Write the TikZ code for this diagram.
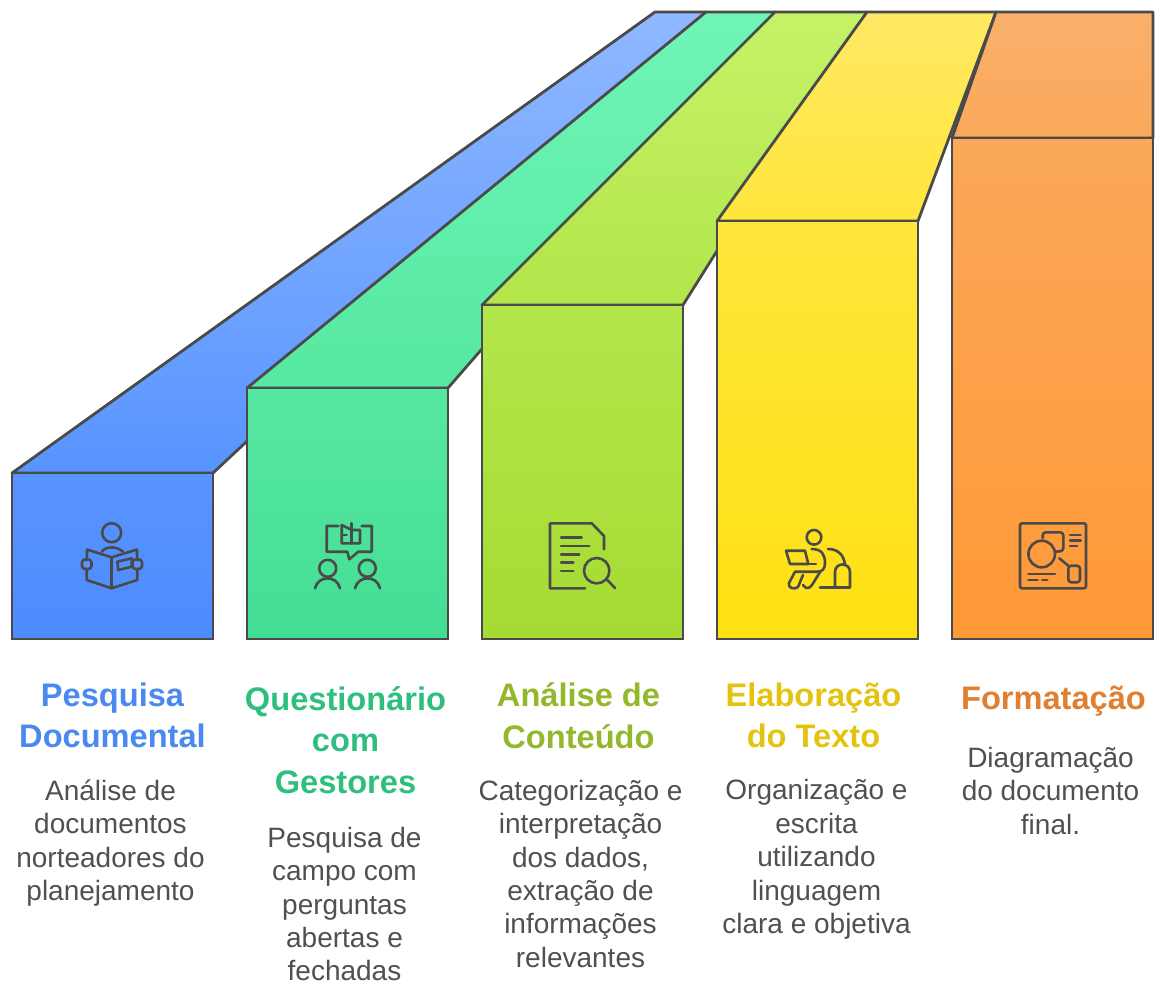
\documentclass[tikz,border=0pt]{standalone}
\usepackage{fontspec}
\setmainfont{Liberation Sans}
\usepackage{xcolor}
\usetikzlibrary{positioning}
\definecolor{linegray}{RGB}{74, 74, 74}
\definecolor{bodygray}{RGB}{80, 80, 80}
\definecolor{bluetop}{RGB}{143, 184, 255}
\definecolor{bluemid}{RGB}{88, 148, 255}
\definecolor{bluelow}{RGB}{77, 140, 255}
\definecolor{bluetext}{RGB}{74, 138, 240}
\definecolor{greentop}{RGB}{112, 245, 184}
\definecolor{greenmid}{RGB}{86, 232, 160}
\definecolor{greenlow}{RGB}{68, 221, 148}
\definecolor{greentext}{RGB}{46, 190, 125}
\definecolor{limetop}{RGB}{197, 242, 104}
\definecolor{limemid}{RGB}{178, 230, 74}
\definecolor{limelow}{RGB}{166, 219, 52}
\definecolor{limetext}{RGB}{148, 184, 44}
\definecolor{yellowtop}{RGB}{255, 232, 99}
\definecolor{yellowmid}{RGB}{255, 230, 60}
\definecolor{yellowlow}{RGB}{255, 224, 18}
\definecolor{yellowtext}{RGB}{227, 195, 16}
\definecolor{orangetop}{RGB}{250, 176, 107}
\definecolor{orangemid}{RGB}{251, 168, 90}
\definecolor{orangelow}{RGB}{255, 152, 54}
\definecolor{orangetext}{RGB}{224, 127, 47}

\begin{document}
\begin{tikzpicture}[
    x=1pt, y=-1pt,
    front/.style={draw=linegray, line width=2.8pt, minimum width=201pt, anchor=south west, inner sep=0pt, outer sep=0pt},
    face/.style={draw=linegray, line width=2.8pt, line join=round},
    heading/.style={font=\fontsize{32.6}{41.5}\selectfont\bfseries, align=center, inner sep=0pt, execute at begin node=\strut, execute at end node=\strut},
    detail/.style={font=\fontsize{28}{33.4}\selectfont, text=bodygray, align=center, inner sep=0pt, execute at begin node=\strut},
    icon/.style={draw=linegray, line width=2.6pt, line cap=round, line join=round}
]
    \useasboundingbox (0,0) rectangle (1155,984);

    % Blue column
    \draw[face, top color=bluetop, bottom color=bluemid] (12,473) -- (655,12) -- (706,12) -- (213,473) -- cycle;
    \node[front, top color=bluemid, bottom color=bluelow, minimum height=166pt] (pesquisa) at (12,639) {};
    % Green column
    \draw[face, top color=greentop, bottom color=greenmid] (247,388) -- (706,12) -- (775,12) -- (448,388) -- cycle;
    \node[front, top color=greenmid, bottom color=greenlow, minimum height=251pt] (questionario) at (247,639) {};
    % Lime column
    \draw[face, top color=limetop, bottom color=limemid] (482,305) -- (775,12) -- (867,12) -- (683,305) -- cycle;
    \node[front, top color=limemid, bottom color=limelow, minimum height=334pt] (analise) at (482,639) {};
    % Yellow column
    \draw[face, top color=yellowtop, bottom color=yellowmid] (717,221) -- (867,12) -- (996,12) -- (918,221) -- cycle;
    \node[front, top color=yellowmid, bottom color=yellowlow, minimum height=418pt] (elaboracao) at (717,639) {};
    % Orange column
    \draw[face, top color=orangetop, bottom color=orangemid] (952,138) -- (996,12) -- (1153,12) -- (1153,138) -- cycle;
    \node[front, top color=orangemid, bottom color=orangelow, minimum height=501pt] (formatacao) at (952,639) {};

    % Headings
    \node[heading, text=bluetext, below=43.5pt of pesquisa] (pesquisatitle) {Pesquisa\\Documental};
    \node[heading, text=greentext, below=47pt of questionario, xshift=-2pt] (questionariotitle) {Questionário\\com\\Gestores};
    \node[heading, text=limetext, below=43.5pt of analise, xshift=-4pt] (analisetitle) {Análise de\\Conteúdo};
    \node[heading, text=yellowtext, below=43.5pt of elaboracao, xshift=-4pt] (elaboracaotitle) {Elaboração\\do Texto};
    \node[heading, text=orangetext, below=41pt of formatacao, xshift=1pt] (formatacaotitle) {Formatação};

    % Details
    \node[detail, below=19pt of pesquisatitle, xshift=-2pt] (pesquisatext) {Análise de\\documentos\\norteadores do\\planejamento};
    \node[detail, below=21pt of questionariotitle, xshift=-1pt] (questionariotext) {Pesquisa de\\campo com\\perguntas\\abertas e\\fechadas};
    \node[detail, below=19pt of analisetitle, xshift=2pt] (analisetext) {Categorização e\\interpretação\\dos dados,\\extração de\\informações\\relevantes};
    \node[detail, below=19pt of elaboracaotitle, xshift=3pt] (elaboracaotext) {Organização e\\escrita\\utilizando\\linguagem\\clara e objetiva};
    \node[detail, below=25pt of formatacaotitle, xshift=-3pt] (formatacaotext) {Diagramação\\do documento\\final.};

    % Reader icon
    \draw[icon] (111.7,532.7) circle (9.5);
    \draw[icon] (87,549.5) -- (111.7,557.3) -- (137,549.5) -- (137.3,580) -- (111.7,588.3) -- (86.7,580) -- cycle;
    \draw[icon] (111.7,557.3) -- (111.7,588.3);
    \draw[icon, rounded corners=3pt, fill=bluemid] (82,559.5) rectangle (91.5,569);
    \draw[icon, rounded corners=3pt, fill=bluemid] (132.5,559.5) rectangle (142,569);
    \draw[icon] (101.7,551.7) .. controls (106,546) and (117,546) .. (123,551.7);
    \draw[icon] (117.3,561.7) -- (131.7,558.3) -- (131.7,566.7) -- (118.3,570) -- cycle;

    % Survey icon
    \draw[icon] (338.3,526) -- (326.7,526) -- (326.7,551.7) -- (347.3,551.7) -- (349.3,559.3) -- (358.3,551.7) -- (371.7,551.7) -- (371.7,526) -- (361.7,526);
    \draw[icon] (351.7,530) -- (341.7,525) -- (341.7,543.3) -- (360,543.3) -- (360,530) -- (351.7,530);
    \draw[icon] (351.7,523.3) -- (351.7,543.3);
    \draw[icon] (341.7,535) -- (346.7,535);
    \draw[icon] (327.7,568.3) circle (8.5);
    \draw[icon] (367.3,568.3) circle (8.5);
    \draw[icon] (315,588.3) .. controls (318,575) and (337,575) .. (340,588.3);
    \draw[icon] (355,588.3) .. controls (358,575) and (377,575) .. (380,588.3);

    % Document icon
    \draw[icon] (585,588.3) -- (550,588.3) -- (550,523.3) -- (591.7,523.3) -- (604,536) -- (604,549.3);
    \draw[icon] (561,537.7) -- (581.7,537.7);
    \draw[icon] (561,546) -- (589.3,546);
    \draw[icon] (561,554.3) -- (579.3,554.3);
    \draw[icon] (561,562.7) -- (573.3,562.7);
    \draw[icon] (561,571) -- (573.3,571);
    \draw[icon] (596.7,570.7) circle (12.7);
    \draw[icon] (607.3,580) -- (615.3,588.3);

    % Writer icon
    \draw[icon] (814,537.3) circle (7.3);
    \draw[icon] (786,550.7) -- (805,550.7) -- (808.3,564) -- (790,564) -- cycle;
    \draw[icon] (808.3,564) -- (816,564);
    \draw[icon] (811.7,549) .. controls (822,549) and (825,555) .. (825,563) .. controls (825,569) and (822,571.7) .. (818,571.7) -- (795,571.7) -- (789,583) .. controls (787,588) and (795,590) .. (798,587) -- (803,575);
    \draw[icon] (803,585) .. controls (806,590) and (810,588) .. (812,585) -- (820,572);
    \draw[icon] (828,549) .. controls (838,549) and (844,555) .. (845,565);
    \draw[icon] (820,587.5) -- (850,587.5) -- (850,572) .. controls (850,562) and (835,562) .. (835,572) -- (835,587.5);

    % Layout icon
    \draw[icon, rounded corners=2pt] (1020,523.3) rectangle (1086,588.3);
    \draw[icon] (1041.7,554) circle (13.3);
    \draw[icon, rounded corners=3pt] (1042.7,538) -- (1042.7,532.3) -- (1063.3,532.3) -- (1063.3,551) -- (1055,551.7);
    \draw[icon] (1070,535) -- (1080.7,535);
    \draw[icon] (1070,540.7) -- (1080.7,540.7);
    \draw[icon] (1070,546) -- (1077.3,546);
    \draw[icon] (1059.3,558.3) -- (1068.3,565.7);
    \draw[icon, rounded corners=3pt] (1068.3,565.7) rectangle (1080,582.3);
    \draw[icon] (1028.3,574) -- (1055,574);
    \draw[icon] (1028.3,580) -- (1037.7,580);
    \draw[icon] (1042.3,580) -- (1047.3,580);
\end{tikzpicture}
\end{document}
